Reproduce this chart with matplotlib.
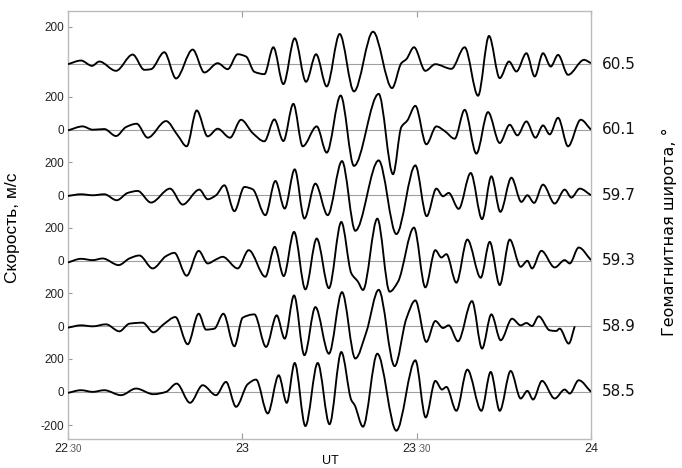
import matplotlib.pyplot as plt
import numpy as np
from matplotlib.path import Path
from matplotlib.patches import PathPatch
from matplotlib.transforms import blended_transform_factory

# --- Data: time in minutes after 22:30 UT, velocity in m/s ---
t_605 = [0, 2.24, 4.13, 5.39, 8.26, 11.13, 13.14, 14.29, 16.58, 18.59, 21.46, 23.47, 25.76, 27.48,
         29.20, 30.64, 32.07, 33.79, 35.34, 37.06, 39.01, 40.96, 42.69, 44.52, 46.75, 49.21, 52.49,
         55.76, 57.36, 58.22, 59.54, 61.49, 63.21, 65.97, 68.26, 70.56, 72.45, 74.29, 75.89, 77.16,
         78.88, 80.31, 81.74, 83.07, 84.33, 86.05, 88.80, 90]
v_605 = [0, 22, -10, 16, -40, 58, -34, -30, 72, -86, 88, -50, 6, -30,
         60, 46, -46, -60, 102, -120, 156, -106, 60, -134, 182, -164, 196,
         -144, 6, 30, 102, -40, 0, -28, 102, -190, 170, -84, 16, -44,
         66, -74, 66, -14, 56, -64, 26, 6]

t_601 = [0, 2.52, 4.25, 6.25, 8.26, 9.98, 11.82, 13.71, 16.87, 18.88, 20.42, 22.15, 24.04, 25.76,
         27.88, 29.78, 31.78, 33.79, 35.51, 37.06, 38.78, 40.39, 42.80, 44.52, 46.92, 49.21, 53.46,
         55.93, 57.36, 58.40, 59.77, 61.66, 63.39, 64.82, 66.54, 68.26, 70.27, 72.28, 74.29, 76.01,
         77.33, 78.88, 80.43, 81.74, 82.89, 84.33, 86.05, 88.23, 90]
v_601 = [-4, 20, 0, 4, -38, 16, 36, -48, 52, -34, -100, 116, -40, 6,
         -48, 60, -20, -70, 62, -68, 156, -100, 20, -138, 206, -218, 216,
         -268, 16, 56, 144, -88, 20, -8, -54, 120, -144, 106, -80, 30,
         -34, 50, -48, 26, -28, 72, -100, 60, 0]

t_597 = [0, 2.24, 4.25, 6.25, 8.38, 10.27, 11.99, 14.29, 17.56, 19.74, 22.60, 24.04, 25.47, 26.91,
         28.63, 30.35, 31.78, 33.96, 35.69, 37.29, 39.01, 40.68, 42.57, 44.69, 47.15, 49.44, 53.46,
         56.50, 59.77, 61.72, 63.39, 64.53, 65.51, 67.23, 69.30, 71.25, 72.85, 74.40, 76.30, 78.02,
         79.05, 80.20, 81.74, 83.75, 85.47, 86.62, 88.06, 90]
v_597 = [-4, 6, 0, 6, -30, 14, 26, -44, 40, -56, 34, -24, 0, 60,
         -96, 50, 36, -120, 86, -80, 156, -140, 70, -120, 206, -214, 210,
         -234, 180, -126, 40, -6, 14, -82, 134, -144, 114, -100, 106, -40,
         0, -46, 64, -50, 34, -14, 40, 0]

t_593 = [0, 2.24, 4.25, 5.97, 8.72, 10.56, 12.28, 14.57, 16.87, 18.30, 20.42, 22.49, 24.04, 25.47,
         26.62, 29.20, 31.10, 33.96, 35.57, 37.12, 38.90, 40.85, 42.80, 44.90, 47.03, 48.76, 49.90,
         50.76, 53.23, 55.35, 56.79, 59.54, 61.49, 63.21, 64.25, 65.11, 66.83, 68.72, 71.02, 72.57,
         74.29, 76.01, 77.90, 79.05, 79.85, 81.46, 83.75, 85.47, 86.34, 87.88, 90]
v_593 = [-10, 12, 4, 14, -26, 14, 32, -46, 28, 48, -90, 60, -16, 8,
         24, -46, 64, -96, 84, -92, 174, -172, 134, -165, 234, -76, -126,
         -176, 254, -186, -126, 200, -160, 64, 20, 40, -132, 128, -102, 114,
         -146, 128, -36, 0, -46, 60, -40, 4, -16, 80, 4]

t_589 = [0, 2.24, 4.25, 6.54, 8.84, 10.56, 12.85, 14.69, 16.58, 18.47, 20.60, 22.49, 23.75, 25.19,
         26.74, 28.63, 30.06, 32.07, 34.08, 35.91, 37.29, 38.90, 40.68, 42.57, 44.90, 47.15, 49.44,
         51.34, 53.46, 56.21, 58.22, 59.77, 61.66, 63.21, 64.53, 65.51, 67.11, 69.52, 71.25, 72.85,
         74.46, 76.41, 77.90, 78.88, 79.85, 81.00, 82.89, 84.00, 84.61, 86.16, 87.20]
v_589 = [-8, 6, 0, 12, -30, 16, 22, -36, 16, 56, -108, 76, -20, -14,
         76, -120, 52, 72, -124, 66, -74, 186, -174, 116, -165, 206, -194,
         -34, 220, -240, 46, 156, -94, 32, -10, 6, -90, 152, -134, 72,
         -84, 46, 6, 20, 2, 60, -24, -28, -14, -104, 0]

t_585 = [0, 2.24, 4.25, 6.25, 9.12, 11.70, 14.69, 16.87, 18.70, 21.00, 23.18, 25.47, 27.19, 28.92,
         30.92, 32.36, 34.37, 36.26, 37.64, 39.01, 40.85, 42.97, 45.00, 47.03, 48.76, 49.33, 50.76,
         53.23, 56.50, 59.77, 61.55, 63.21, 64.36, 65.11, 66.83, 68.72, 71.13, 72.74, 74.29, 76.18,
         77.90, 79.05, 80.03, 81.57, 83.75, 85.47, 86.34, 87.88, 90]
v_585 = [-6, 10, 0, 10, -20, 20, -14, 0, 50, -66, 40, -20, 60, -90,
         46, 74, -130, 100, -66, 174, -206, 174, -195, 240, -50, -80, -210,
         230, -234, 190, -154, 66, 14, 30, -114, 134, -114, 120, -114, 126,
         -40, 6, -46, 66, -40, 14, -10, 70, 0]

latitudes = ["60.5", "60.1", "59.7", "59.3", "58.9", "58.5"]
series = [(t_605, v_605), (t_601, v_601), (t_597, v_597),
          (t_593, v_593), (t_589, v_589), (t_585, v_585)]

xticks = [0, 30, 60, 90]
step = 395  # vertical shift between traces


# --- Helper: smooth monotone cubic drawn as Bezier path through the read points ---
def smooth_path(t, v):
    t = np.asarray(t, float)
    v = np.asarray(v, float)
    h = np.diff(t)
    d = np.diff(v) / h
    m = np.zeros(len(t))
    m[0], m[-1] = d[0], d[-1]
    for k in range(1, len(t) - 1):
        if d[k - 1] * d[k] > 0:
            w1 = 2 * h[k] + h[k - 1]
            w2 = h[k] + 2 * h[k - 1]
            m[k] = (w1 + w2) / (w1 / d[k - 1] + w2 / d[k])
    verts = [(t[0], v[0])]
    codes = [Path.MOVETO]
    for k in range(len(t) - 1):
        verts += [(t[k] + h[k] / 3, v[k] + m[k] * h[k] / 3),
                  (t[k + 1] - h[k] / 3, v[k + 1] - m[k + 1] * h[k] / 3),
                  (t[k + 1], v[k + 1])]
        codes += [Path.CURVE4] * 3
    return Path(verts, codes)


# --- Plot ---
fig = plt.figure(figsize=(6.82, 4.68), dpi=100)
ax = fig.add_axes([0.0997, 0.062, 0.7669, 0.915])

n = len(series)
yticks, ylabels = [], []
for i, ((t, v), lat) in enumerate(zip(series, latitudes)):
    off = step * (n - 1 - i)
    ax.axhline(off, color="#a0a0a0", lw=0.8, zorder=1)
    vs = [val + off for val in v]
    ax.add_patch(PathPatch(smooth_path(t, vs), fill=False, edgecolor="black", lw=1.35, zorder=3))
    if i == 0:
        yticks.append(off + 225)
        ylabels.append("200")
    else:
        yticks += [off, off + 200]
        ylabels += ["0", "200"]
    ax.text(1.021, off, lat, transform=blended_transform_factory(ax.transAxes, ax.transData),
            ha="left", va="center", fontsize=11, family="DejaVu Sans", color="#111")
yticks.append(-200)
ylabels.append("-200")

ax.set_xlim(0, 90)
ax.set_ylim(-284, 2297)
ax.set_yticks(yticks)
ax.set_yticklabels(ylabels, family="Liberation Sans", fontsize=8.5, color="#222")
ax.set_xticks(xticks)
ax.set_xticklabels(["", "23", "", "24"], family="Liberation Sans", fontsize=9, color="#222")
ax.tick_params(axis="x", direction="in", top=True, length=4, color="#999", pad=3)
ax.tick_params(axis="y", direction="in", length=3, color="#999", pad=3)
for s in ax.spines.values():
    s.set_color("#bbb")
    s.set_linewidth(1.0)

# hour:minute tick labels with small minutes
bt = blended_transform_factory(ax.transData, ax.transAxes)
for x, hh in [(0, "22"), (60, "23")]:
    ax.annotate(hh, xy=(x, 0), xycoords=bt, xytext=(0, -3), textcoords="offset points",
                ha="right", va="top", fontsize=9, family="Liberation Sans", color="#222")
    ax.annotate(":30", xy=(x, 0), xycoords=bt, xytext=(0, -3.5), textcoords="offset points",
                ha="left", va="top", fontsize=7, family="Liberation Sans", color="#555")

fig.text(0.484, 0.015, "UT", ha="center", va="center", fontsize=9, family="Liberation Sans")
fig.text(0.019, 0.513, "Скорость, м/с", rotation=90, ha="center", va="center",
         fontsize=12.5, family="Liberation Sans")
fig.text(0.982, 0.505, "Геомагнитная широта, °", rotation=90, ha="center", va="center",
         fontsize=11.5, family="DejaVu Sans")

plt.savefig("out.png", dpi=100)
